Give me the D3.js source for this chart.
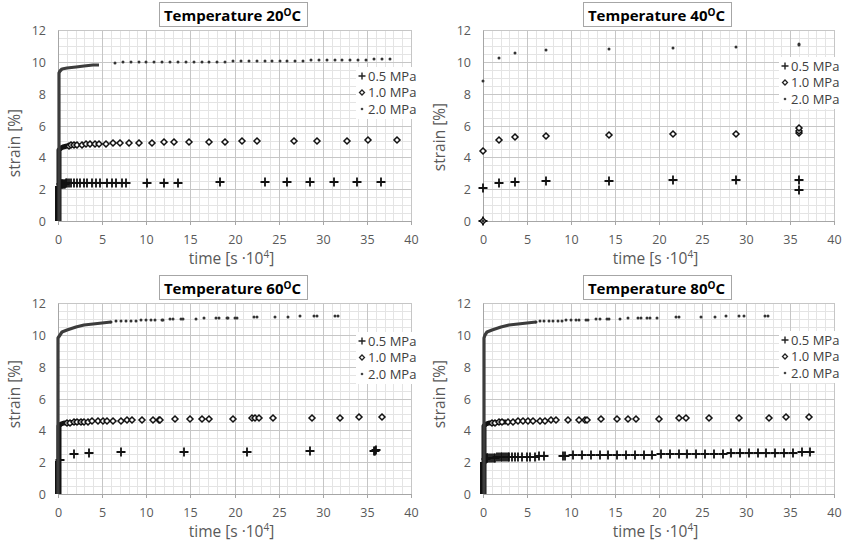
<!DOCTYPE html>
<html>
<head>
<meta charset="utf-8">
<script src="https://cdn.jsdelivr.net/npm/d3@7"></script>
<style>
  body { margin: 0; background: #fff; }
  text { font-family: "Open Sans", sans-serif; }
  .tick text { font-size: 12.5px; fill: #595959; font-family: "Open Sans", sans-serif; }
  .axis-title { font-size: 15.5px; fill: #595959; }
  .chart-title { font-size: 15px; font-weight: bold; fill: #000; }
  .legend-label { font-size: 13px; fill: #404040; }
</style>
</head>
<body>
<svg id="vis" width="843" height="543"></svg>
<script>
const temps = [20, 40, 60, 80];
const legendLabels = ["0.5 MPa", "1.0 MPa", "2.0 MPa"];
const xTicks = [0, 5, 10, 15, 20, 25, 30, 35, 40];
const yTicks = [0, 2, 4, 6, 8, 10, 12];

// "run" = stretches where markers overlap into a solid band, "pts" = separate markers
// values are [time (s*10^4), strain (%)]

// 20 C
const run20_05 = [[0.05, 0], [0.05, 2.2]];
const pts20_05 = [[0.3, 2.3], [0.4, 2.32], [0.5, 2.33], [0.6, 2.34], [0.7, 2.35], [0.8, 2.35],
  [0.9, 2.36], [1.0, 2.36], [1.2, 2.37], [1.5, 2.37], [1.8, 2.38], [2.1, 2.38], [2.5, 2.38],
  [2.9, 2.39], [3.3, 2.39], [3.8, 2.39], [4.3, 2.39], [4.8, 2.4], [5.5, 2.4], [6.1, 2.4],
  [6.6, 2.4], [7.2, 2.4], [7.7, 2.4], [10.1, 2.41], [12.0, 2.41], [13.6, 2.41], [18.4, 2.42],
  [23.4, 2.42], [26.0, 2.42], [28.6, 2.42], [31.3, 2.42], [33.9, 2.43], [36.6, 2.43]];
const run20_10 = [[0.15, 0], [0.15, 4.45], [0.3, 4.6], [0.6, 4.68], [1.0, 4.72], [1.6, 4.76], [2.0, 4.78]];
const pts20_10 = [[1.2, 4.73], [1.5, 4.75], [1.8, 4.77], [2.2, 4.79], [2.7, 4.8], [3.15, 4.81],
  [3.6, 4.82], [4.2, 4.84], [4.7, 4.85], [5.4, 4.86], [6.2, 4.87], [7.0, 4.88], [8.0, 4.89],
  [9.2, 4.91], [10.6, 4.92], [12.0, 4.94], [13.2, 4.95], [14.8, 4.97], [17.1, 4.98], [18.9, 4.99],
  [20.8, 5.0], [22.5, 5.01], [26.7, 5.03], [29.4, 5.04], [32.7, 5.05], [35.1, 5.07], [38.4, 5.08]];
const run20_20 = [[0.1, 0], [0.1, 9.3], [0.2, 9.45], [0.5, 9.55], [1.0, 9.6], [2.0, 9.68],
  [3.0, 9.74], [4.0, 9.79], [4.6, 9.82]];
const pts20_20 = [[6.5, 9.95], [7.4, 9.96], [8.3, 9.96], [9.2, 9.97], [10.0, 9.97], [10.9, 9.98],
  [11.8, 9.98], [12.7, 9.99], [13.6, 9.99], [14.5, 10.0], [15.4, 10.0], [16.3, 10.01], [17.1, 10.01],
  [18.0, 10.02], [18.9, 10.02], [19.8, 10.03], [20.7, 10.04], [21.6, 10.04], [22.5, 10.05],
  [23.4, 10.05], [24.2, 10.06], [25.1, 10.07], [26.0, 10.07], [26.9, 10.08], [27.8, 10.08],
  [28.7, 10.09], [29.6, 10.1], [30.5, 10.1], [31.4, 10.11], [32.2, 10.12], [33.1, 10.12],
  [34.0, 10.13], [34.9, 10.14], [35.8, 10.15], [36.7, 10.16], [37.6, 10.17]];

// 40 C
const pts40_05 = [[0, 0], [0, 2.05], [1.8, 2.4], [3.6, 2.47], [7.2, 2.52], [14.4, 2.53],
  [21.6, 2.56], [28.8, 2.6], [36, 2.6], [36, 1.95]];
const pts40_10 = [[0, 0], [0, 4.4], [1.8, 5.1], [3.6, 5.3], [7.2, 5.36], [14.4, 5.4],
  [21.6, 5.45], [28.8, 5.47], [36, 5.5], [36, 5.68], [36, 5.85]];
const pts40_20 = [[0, 0], [0, 8.8], [1.8, 10.22], [3.6, 10.58], [7.2, 10.72], [14.4, 10.8],
  [21.6, 10.9], [28.8, 10.95], [36, 11.05], [36, 11.15]];

// 60 C
const run60_05 = [[0.05, 0], [0.05, 2.1]];
const pts60_05 = [[0.2, 2.15], [1.8, 2.52], [3.5, 2.6], [7.1, 2.63], [14.3, 2.64], [21.4, 2.67],
  [28.6, 2.7], [35.8, 2.71], [35.9, 2.69], [36.0, 2.74]];
const run60_10 = [[0.1, 0], [0.1, 4.3], [0.3, 4.4], [0.7, 4.45], [1.2, 4.48], [2.0, 4.52], [2.8, 4.54]];
const pts60_10 = [[1.0, 4.47], [1.4, 4.49], [1.8, 4.5], [2.2, 4.52], [2.6, 4.53], [3.0, 4.54],
  [3.4, 4.55], [3.9, 4.56], [4.5, 4.57], [5.1, 4.58], [5.6, 4.59], [6.2, 4.6], [7.1, 4.61],
  [7.8, 4.62], [8.4, 4.63], [9.5, 4.64], [10.8, 4.66], [11.5, 4.67], [11.6, 4.68], [13.3, 4.69],
  [15.0, 4.7], [16.3, 4.71], [17.1, 4.72], [19.8, 4.73], [22.0, 4.75], [22.3, 4.76], [22.8, 4.76],
  [24.4, 4.77], [28.8, 4.79], [32.0, 4.8], [34.1, 4.81], [36.7, 4.82]];
const run60_20 = [[0.05, 0], [0.05, 9.8], [0.2, 10.0], [0.5, 10.15], [1.0, 10.3], [2.0, 10.48],
  [3.0, 10.6], [4.0, 10.7], [5.0, 10.77], [6.0, 10.82]];
const pts60_20 = [[6.0, 10.83], [6.6, 10.84], [7.1, 10.86], [7.7, 10.87], [8.3, 10.88], [8.8, 10.9],
  [9.4, 10.91], [10.0, 10.93], [10.5, 10.94], [11.0, 10.95], [11.8, 10.96], [11.9, 10.96],
  [12.7, 10.98], [13.0, 10.98], [13.9, 11.0], [14.2, 11.0], [15.6, 11.02], [16.6, 11.04],
  [17.9, 11.05], [18.2, 11.06], [19.1, 11.07], [19.3, 11.07], [20.0, 11.08], [20.3, 11.08],
  [22.2, 11.11], [22.5, 11.11], [24.6, 11.13], [26.1, 11.15], [27.4, 11.16], [29.0, 11.18],
  [29.4, 11.18], [31.4, 11.2], [31.7, 11.2]];

// 80 C
const run80_05 = [[0.05, 0], [0.05, 2.0]];
const pts80_05 = [[0.3, 2.22], [0.4, 2.24], [0.5, 2.25], [0.6, 2.26], [0.8, 2.27], [1.0, 2.28],
  [1.2, 2.29], [1.4, 2.29], [1.6, 2.3], [1.8, 2.3], [2.0, 2.31], [2.2, 2.31], [2.4, 2.31],
  [2.6, 2.32], [2.8, 2.32], [3.0, 2.32], [3.3, 2.33], [3.6, 2.33], [4.0, 2.33], [4.5, 2.34],
  [5.0, 2.34], [5.4, 2.35], [5.9, 2.35], [6.4, 2.36], [6.9, 2.36],
  [9.1, 2.4], [9.4, 2.41], [10.3, 2.42], [11.3, 2.42], [12.3, 2.43], [13.3, 2.44], [14.3, 2.45],
  [15.3, 2.45], [16.3, 2.46], [17.3, 2.47], [18.3, 2.48], [19.3, 2.48], [20.3, 2.49], [21.3, 2.5],
  [22.3, 2.51], [23.3, 2.51], [24.3, 2.52], [25.3, 2.53], [26.3, 2.54], [27.3, 2.54], [28.3, 2.55],
  [29.3, 2.56], [30.3, 2.57], [31.3, 2.57], [32.3, 2.58], [33.3, 2.59], [34.3, 2.6], [35.3, 2.6],
  [36.3, 2.61], [37.3, 2.62]];
const run80_10 = [[0.15, 0], [0.15, 4.3], [0.3, 4.4], [0.7, 4.45], [1.2, 4.48], [2.0, 4.52], [2.6, 4.54]];
const pts80_10 = [[1.0, 4.47], [1.4, 4.49], [1.8, 4.5], [2.2, 4.52], [2.85, 4.54], [3.4, 4.55],
  [4.0, 4.56], [4.55, 4.57], [5.1, 4.58], [5.7, 4.59], [6.45, 4.6], [7.1, 4.61], [7.7, 4.62],
  [8.35, 4.63], [9.7, 4.65], [10.9, 4.66], [11.65, 4.67], [11.85, 4.68], [13.5, 4.69], [15.3, 4.7],
  [16.5, 4.71], [17.4, 4.72], [20.05, 4.73], [22.3, 4.75], [23.1, 4.76], [25.8, 4.78], [29.2, 4.79],
  [32.6, 4.8], [34.5, 4.81], [37.1, 4.82]];
const run80_20 = [[0.1, 0], [0.1, 9.8], [0.25, 10.0], [0.5, 10.15], [1.0, 10.3], [2.0, 10.48],
  [3.0, 10.6], [4.0, 10.7], [5.0, 10.77], [6.0, 10.82]];
const pts80_20 = [[6.0, 10.83], [6.5, 10.84], [7.0, 10.85], [7.5, 10.86], [8.0, 10.87], [8.5, 10.88],
  [9.0, 10.9], [9.5, 10.91], [10.0, 10.92], [10.6, 10.93], [10.9, 10.94], [11.7, 10.95], [12.0, 10.96],
  [12.9, 10.97], [13.3, 10.98], [14.1, 10.99], [14.4, 11.0], [15.6, 11.02], [16.5, 11.03],
  [17.7, 11.05], [18.0, 11.05], [18.7, 11.06], [19.0, 11.07], [19.8, 11.08], [22.0, 11.1],
  [22.3, 11.11], [24.9, 11.13], [26.4, 11.15], [27.7, 11.16], [29.2, 11.18], [29.8, 11.18],
  [32.1, 11.2], [32.5, 11.2]];

const panelSeries = [
  [{ run: run20_05, pts: pts20_05 }, { run: run20_10, pts: pts20_10 }, { run: run20_20, pts: pts20_20 }],
  [{ run: [], pts: pts40_05 }, { run: [], pts: pts40_10 }, { run: [], pts: pts40_20 }],
  [{ run: run60_05, pts: pts60_05 }, { run: run60_10, pts: pts60_10 }, { run: run60_20, pts: pts60_20 }],
  [{ run: run80_05, pts: pts80_05 }, { run: run80_10, pts: pts80_10 }, { run: run80_20, pts: pts80_20 }]
];

/* LAYOUT */
const frames = [
  { left: 58, right: 411, top: 30, bottom: 221, legendTop: 46, yTitleY: 143 },
  { left: 483, right: 834, top: 30, bottom: 221, legendTop: 36, yTitleY: 137 },
  { left: 58, right: 411, top: 303, bottom: 494, legendTop: 38, yTitleY: 394 },
  { left: 483, right: 834, top: 303, bottom: 494, legendTop: 37, yTitleY: 394 }
];

const runWidth = [6, 5, 3.2];
const runColor = ["#111", "#111", "#3c3c3c"];

const svg = d3.select("svg#vis");

for (let i = 0; i < frames.length; i++) {
  drawPanel(i);
}

function drawPanel(i) {
  const f = frames[i];
  const g = svg.append("g").attr("class", "panel");
  const plotHeight = f.bottom - f.top;
  const plotWidth = f.right - f.left;

  const x = d3.scaleLinear().domain([0, 40]).rangeRound([f.left, f.right]);
  const y = d3.scaleLinear().domain([0, 12]).rangeRound([f.bottom, f.top]);

  /* GRID */
  const minorX = d3.axisBottom(x).ticks(40).tickSize(-plotHeight).tickFormat("");
  const minorY = d3.axisLeft(y).ticks(24).tickSize(-plotWidth).tickFormat("");
  const majorX = d3.axisBottom(x).tickValues(xTicks).tickSize(-plotHeight).tickFormat("");
  const majorY = d3.axisLeft(y).tickValues(yTicks).tickSize(-plotWidth).tickFormat("");

  g.append("g").attr("transform", translate(0, f.bottom)).call(minorX)
    .call(s => s.select(".domain").remove())
    .selectAll("line").attr("stroke", "#e4e4e4");
  g.append("g").attr("transform", translate(f.left, 0)).call(minorY)
    .call(s => s.select(".domain").remove())
    .selectAll("line").attr("stroke", "#e4e4e4");
  g.append("g").attr("transform", translate(0, f.bottom)).call(majorX)
    .call(s => s.select(".domain").remove())
    .selectAll("line").attr("stroke", "#c6c6c6");
  g.append("g").attr("transform", translate(f.left, 0)).call(majorY)
    .call(s => s.select(".domain").remove())
    .selectAll("line").attr("stroke", "#c6c6c6");

  /* AXES */
  const xAxis = d3.axisBottom(x).tickValues(xTicks).tickSize(4).tickSizeOuter(0).tickPadding(10);
  const yAxis = d3.axisLeft(y).tickValues(yTicks).tickSize(0).tickSizeOuter(0).tickPadding(12);

  const xg = g.append("g").attr("transform", translate(0, f.bottom)).call(xAxis);
  const yg = g.append("g").attr("transform", translate(f.left, 0)).call(yAxis);
  [xg, yg].forEach(a => {
    a.attr("font-family", null).attr("font-size", null);
    a.select(".domain").attr("stroke", "#a6a6a6");
    a.selectAll(".tick line").attr("stroke", "#a6a6a6");
  });

  /* SERIES */
  const line = d3.line().x(d => x(d[0])).y(d => y(d[1]));
  const series = panelSeries[i];

  series.forEach((s, k) => {
    if (s.run.length) {
      g.append("path")
        .attr("d", line(s.run))
        .attr("fill", "none")
        .attr("stroke", runColor[k])
        .attr("stroke-width", runWidth[k])
        .attr("stroke-linejoin", "round");
    }
    const mg = g.append("g");
    if (k === 0) {
      mg.selectAll("path").data(s.pts).enter().append("path")
        .attr("d", d => plusPath(x(d[0]), y(d[1]), 4.5))
        .attr("stroke", "#111")
        .attr("stroke-width", 1.8)
        .attr("fill", "none");
    } else if (k === 1) {
      mg.selectAll("path").data(s.pts).enter().append("path")
        .attr("d", d => diamondPath(x(d[0]), y(d[1]), 3))
        .attr("stroke", "#111")
        .attr("stroke-width", 1.5)
        .attr("fill", "#fff");
    } else {
      mg.selectAll("circle").data(s.pts).enter().append("circle")
        .attr("cx", d => x(d[0]))
        .attr("cy", d => y(d[1]))
        .attr("r", 1.5)
        .attr("fill", "#333");
    }
  });

  /* LEGEND */
  const lx = f.right - 49;
  const ly = f.top + f.legendTop;
  const lg = g.append("g").attr("class", "legend");
  lg.append("rect")
    .attr("x", lx - 6).attr("y", ly - 9)
    .attr("width", 70).attr("height", 52)
    .attr("fill", "#fff");
  legendLabels.forEach((label, k) => {
    const cy = ly + k * 16.5;
    if (k === 0) {
      lg.append("path").attr("d", plusPath(lx, cy, 3.5))
        .attr("stroke", "#222").attr("stroke-width", 1.4);
    } else if (k === 1) {
      lg.append("path").attr("d", diamondPath(lx, cy, 2.5))
        .attr("stroke", "#222").attr("stroke-width", 1.3).attr("fill", "#fff");
    } else {
      lg.append("circle").attr("cx", lx).attr("cy", cy).attr("r", 1.3).attr("fill", "#444");
    }
    lg.append("text")
      .attr("class", "legend-label")
      .attr("x", lx + 6)
      .attr("y", cy)
      .attr("dy", "0.36em")
      .text(label);
  });

  /* TITLE */
  const cx = (f.left + f.right) / 2 - 2;
  const tg = svg.append("g");
  const tt = tg.append("text")
    .attr("class", "chart-title")
    .attr("x", cx)
    .attr("y", f.top - 9)
    .attr("text-anchor", "middle");
  tt.append("tspan").text("Temperature " + temps[i]);
  tt.append("tspan").attr("dy", -5).attr("font-size", "10px").text("O");
  tt.append("tspan").attr("dy", 5).text("C");
  const bb = tt.node().getBBox();
  tg.insert("rect", "text")
    .attr("x", Math.round(bb.x - 5) + 0.5)
    .attr("y", f.top - 27.5)
    .attr("width", Math.round(bb.width + 10))
    .attr("height", 24)
    .attr("fill", "#fff")
    .attr("stroke", "#a6a6a6");

  /* AXIS TITLES */
  const xt = svg.append("text")
    .attr("class", "axis-title")
    .attr("x", cx - 1)
    .attr("y", f.bottom + 43)
    .attr("text-anchor", "middle");
  xt.append("tspan").text("time [s \u00b710");
  xt.append("tspan").attr("dy", -6).attr("font-size", "10px").text("4");
  xt.append("tspan").attr("dy", 6).text("]");

  svg.append("g")
    .attr("transform", translate(f.left - 43, f.yTitleY))
    .append("text")
    .attr("class", "axis-title")
    .attr("transform", "rotate(-90)")
    .attr("text-anchor", "middle")
    .attr("dy", "0.35em")
    .text("strain [%]");
}

function plusPath(cx, cy, r) {
  return "M" + (cx - r) + "," + cy + "H" + (cx + r) + "M" + cx + "," + (cy - r) + "V" + (cy + r);
}

function diamondPath(cx, cy, r) {
  return "M" + cx + "," + (cy - r) + "L" + (cx + r) + "," + cy + "L" + cx + "," + (cy + r) +
    "L" + (cx - r) + "," + cy + "Z";
}

function translate(x, y) {
  return "translate(" + String(x) + "," + String(y) + ")";
}
</script>
</body>
</html>
